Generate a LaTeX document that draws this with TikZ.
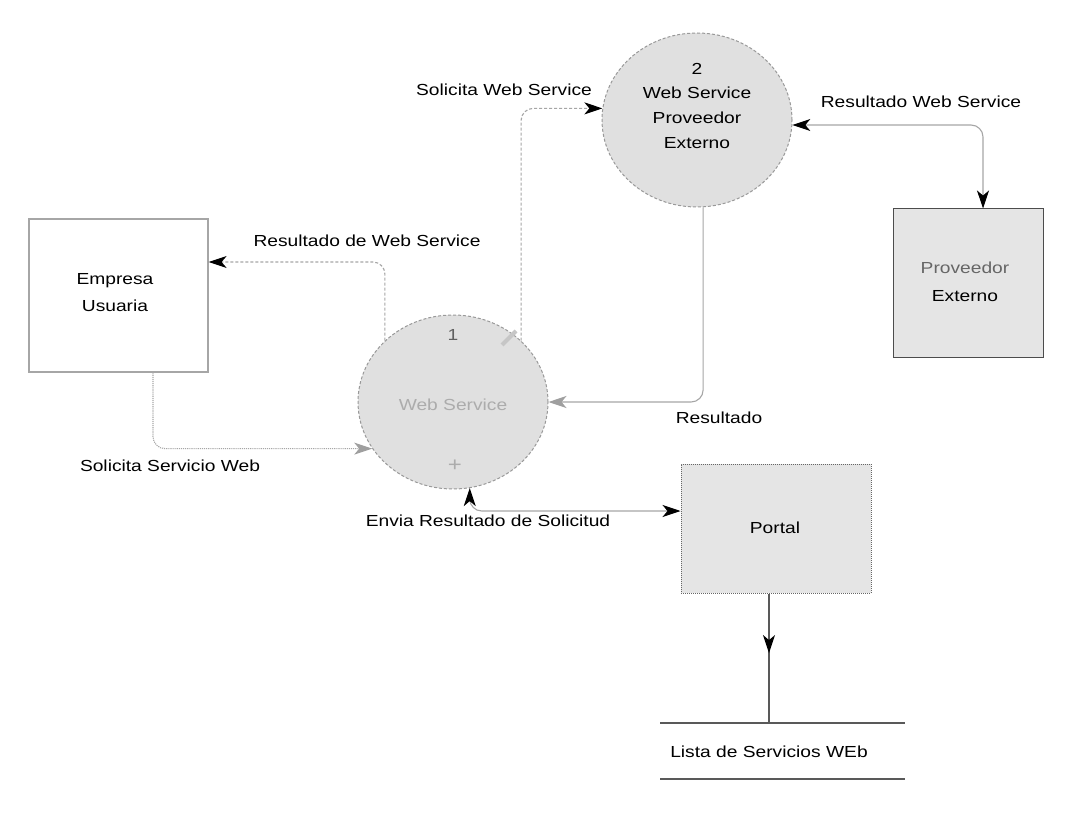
\documentclass[tikz,border=0pt]{standalone}
\usepackage{fontspec}
\setmainfont[FakeStretch=1.2]{Liberation Sans}
\usetikzlibrary{shapes.geometric,arrows.meta,decorations.markings}
\tikzset{
  tbk/.tip={Stealth[length=18pt,width=12pt,inset=5pt,color=black]},
  tgr/.tip={Stealth[length=18pt,width=12pt,inset=5pt,color=gray!75]},
}
\begin{document}
\begin{tikzpicture}[x=1pt,y=-1pt,
  font=\fontsize{16}{27}\selectfont,
  lbl/.style={inner sep=0pt, text=black, align=center},
  proc/.style={ellipse, draw=gray!80, densely dashed, line width=1pt, fill=gray!24, minimum width=190pt, minimum height=174pt, inner sep=0pt},
  entbox/.style={rectangle, align=center, inner sep=0pt},
  flow/.style={draw=gray!70, line width=1.1pt, rounded corners=12pt},
]
\useasboundingbox[fill=white] (0,0) rectangle (1075,834);

% Nodes
\node[entbox, draw=gray!70, line width=1.2pt, fill=white, minimum width=179pt, minimum height=153pt] (emp) at (118.5,295.5) {};
\node[lbl] (empt) at (115,293) {Empresa\\Usuaria};

\node[proc] (ws1) at (453,402) {};
\node[lbl, text=gray!75!black] (ws1n) at (453,335) {1};
\node[lbl, text=gray!65] (ws1t) at (453,405) {Web Service};
\node[lbl, text=gray!65, font=\fontsize{20}{20}\selectfont] (ws1p) at (455,466) {+};
\draw[gray!45, line width=4pt] (502,345) -- (516,331);

\node[proc] (ws2) at (697,120) {};
\node[lbl] (ws2t) at (697,106) {2\\[-3pt]Web Service\\[-2pt]Proveedor\\[-2pt]Externo};

\node[entbox, draw=black!70, line width=1pt, fill=gray!20, minimum width=150pt, minimum height=148pt] (prov) at (968,283) {};
\node[lbl] (provt) at (965,282) {\textcolor{gray!80!black}{Proveedor}\\[1pt]Externo};

\node[entbox, draw=gray!80!black, densely dotted, line width=1pt, fill=gray!20, minimum width=190pt, minimum height=129pt] (portal) at (776,528.5) {};
\node[lbl] (portalt) at (775,528) {Portal};

\node[lbl] (list) at (769,752) {Lista de Servicios WEb};
\draw[gray!70!black, line width=1.1pt] (660,723) -- (905,723);
\draw[gray!70!black, line width=1.1pt] (660,779) -- (905,779);
\coordinate (lt) at (769,723);

% Labels
\node[lbl] (l1) at (367,241) {Resultado de Web Service};
\node[lbl] (l2) at (504,90) {Solicita Web Service};
\node[lbl] (l3) at (921,102) {Resultado Web Service};
\node[lbl] (l4) at (719,418) {Resultado};
\node[lbl] (l5) at (170,466) {Solicita Servicio Web};
\node[lbl] (l6) at (488,521) {Envia Resultado de Solicitud};

% Flows
\draw[flow, densely dashed, -{tbk}] (ws1.138) |- (emp.east |- 0,262);
\draw[flow, densely dashed, -{tbk}] (ws1.42) |- (ws2.173);
\draw[flow, {tbk}-{tbk}] (ws2.-3) -| ([xshift=15pt]prov.north);
\draw[flow, -{tgr}] (ws2.-86) |- (ws1.east);
\draw[flow, densely dotted, -{tgr}] ([xshift=34.5pt]emp.south) |- (ws1.210);
\draw[flow, {tbk}-{tbk}] (ws1.-79) |- (portal.west |- 0,511);
\draw[draw=gray!70!black, line width=1.1pt,
  postaction={decorate, decoration={markings, mark=at position 0.46 with {\arrow{tbk}}}}]
  ([xshift=-7pt]portal.south) -- (lt);
\end{tikzpicture}
\end{document}
